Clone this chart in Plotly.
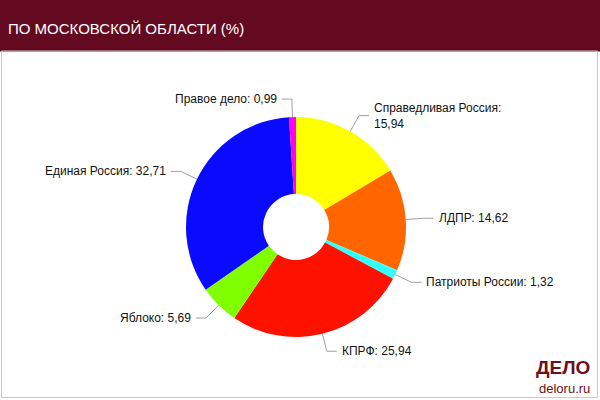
import math
import plotly.graph_objects as go

# ---- data ----
parties = ["Справедливая Россия", "ЛДПР", "Патриоты России", "КПРФ",
           "Яблоко", "Единая Россия", "Правое дело"]
values = [15.94, 14.62, 1.32, 25.94, 5.69, 32.71, 0.99]
value_labels = ["15,94", "14,62", "1,32", "25,94", "5,69", "32,71", "0,99"]
colors = ["#FFFF00", "#FF6600", "#33FFFF", "#FF1100", "#7FFF00", "#0A0AFF", "#FF00FF"]
title_text = "ПО МОСКОВСКОЙ ОБЛАСТИ (%)"

# ---- layout geometry (pixels) ----
W, H = 600, 400
CX, CY, R = 296, 227, 110
HEADER_H = 51
ELBOW = 18
HSEG = 10


def px(x):
    return x / W


def py(y):
    return 1 - y / H


fig = go.Figure()
fig.add_trace(go.Pie(
    labels=parties, values=values, sort=False, direction="clockwise",
    rotation=0, hole=0.3, textinfo="none", hoverinfo="label+value",
    marker=dict(colors=colors, line=dict(width=0)),
    domain=dict(x=[px(CX - R), px(CX + R)], y=[py(CY + R), py(CY - R)]),
    showlegend=False,
))

shapes = []
annotations = []

# header bar
shapes.append(dict(type="rect", xref="paper", yref="paper", x0=0, x1=1,
                   y0=py(HEADER_H), y1=1, fillcolor="#640A20", line=dict(width=0), layer="below"))
shapes.append(dict(type="line", xref="paper", yref="paper", x0=0, x1=1,
                   y0=py(HEADER_H + 0.5), y1=py(HEADER_H + 0.5), line=dict(color="#B07080", width=1)))
# frame
shapes.append(dict(type="rect", xref="paper", yref="paper", x0=px(1.5), x1=px(597.5),
                   y0=py(397.5), y1=py(HEADER_H), fillcolor="rgba(0,0,0,0)",
                   line=dict(color="#C8C8C8", width=1)))

annotations.append(dict(text=title_text, xref="paper", yref="paper", x=px(6), y=py(28),
                        xanchor="left", yanchor="middle", showarrow=False,
                        font=dict(family="Liberation Sans, Arial", size=15, color="white")))

# data labels with connectors
total = sum(values)
cum = 0
for name, v, vl in zip(parties, values, value_labels):
    mid = (cum + v / 2) / total * 2 * math.pi
    cum += v
    s, c = math.sin(mid), math.cos(mid)
    x1, y1 = CX + R * s, CY - R * c
    x2, y2 = CX + (R + ELBOW) * s, CY - (R + ELBOW) * c
    right = s >= 0
    x3 = x2 + (HSEG if right else -HSEG)
    shapes.append(dict(type="path", xref="paper", yref="paper",
                       path=f"M {px(x1)} {py(y1)} L {px(x2)} {py(y2)} L {px(x3)} {py(y2)}",
                       line=dict(color="#A0A0A0", width=1)))
    if name == "Справедливая Россия":
        txt = f"{name}:<br>{vl}"
    else:
        txt = f"{name}: {vl}"
    annotations.append(dict(text=txt, xref="paper", yref="paper",
                            x=px(x3 + (3 if right else -3)), y=py(y2),
                            xanchor="left" if right else "right", yanchor="middle",
                            align="left", showarrow=False,
                            font=dict(family="Liberation Sans, Arial", size=12, color="#111111")))

# logo
annotations.append(dict(text="<b>ДЕЛО</b>", xref="paper", yref="paper", x=px(563), y=py(367),
                        xanchor="center", yanchor="middle", showarrow=False,
                        font=dict(family="Liberation Sans, Arial", size=19, color="#6B0F1A")))
annotations.append(dict(text="deloru.ru", xref="paper", yref="paper", x=px(564), y=py(388),
                        xanchor="center", yanchor="middle", showarrow=False,
                        font=dict(family="Liberation Sans, Arial", size=13, color="#6B0F1A")))

fig.update_layout(width=W, height=H, margin=dict(l=0, r=0, t=0, b=0),
                  paper_bgcolor="white", plot_bgcolor="white",
                  shapes=shapes, annotations=annotations)
fig.write_html("out.html", config={"displayModeBar": False},
               post_script="document.body.style.margin='0';document.body.style.overflow='hidden';")
